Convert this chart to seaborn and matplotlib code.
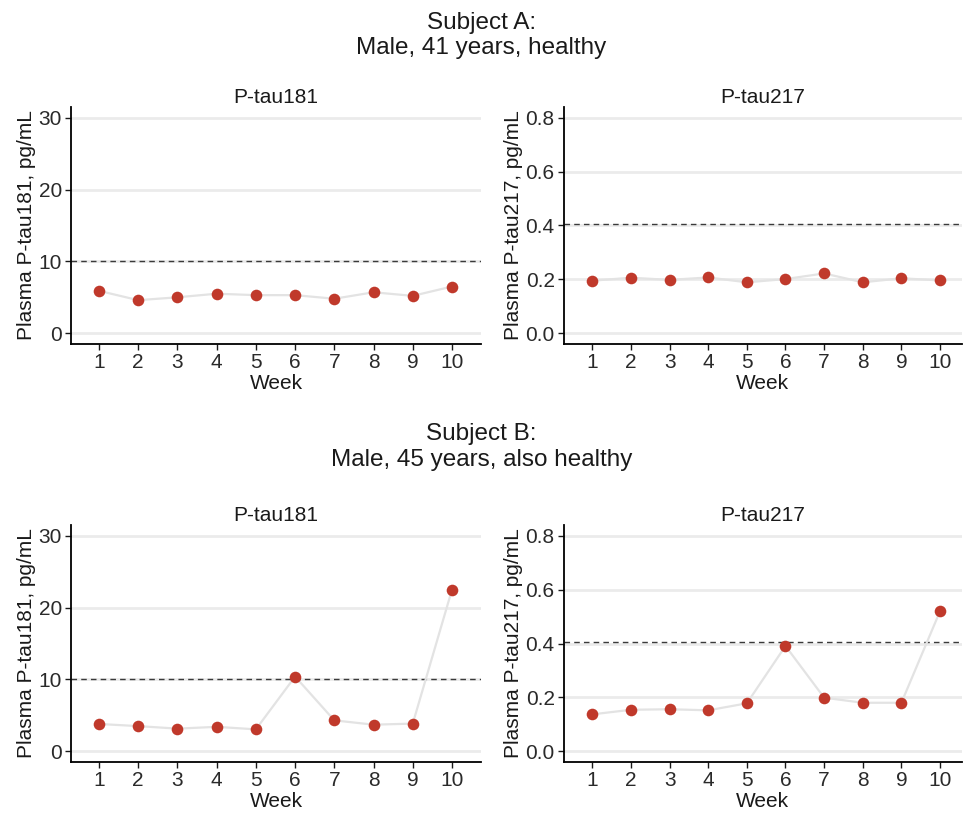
import pandas as pd
import seaborn as sns
import matplotlib.pyplot as plt

weeks = list(range(1, 11))
a_ptau181 = [5.9, 4.6, 5.0, 5.5, 5.3, 5.3, 4.8, 5.7, 5.2, 6.5]
a_ptau217 = [0.195, 0.206, 0.198, 0.207, 0.189, 0.201, 0.222, 0.189, 0.204, 0.196]
b_ptau181 = [3.8, 3.5, 3.15, 3.4, 3.05, 10.4, 4.3, 3.7, 3.85, 22.5]
b_ptau217 = [0.137, 0.154, 0.156, 0.152, 0.178, 0.391, 0.199, 0.180, 0.180, 0.520]

subjects = ["Subject A:\nMale, 41 years, healthy", "Subject B:\nMale, 45 years, also healthy"]
markers = ["P-tau181", "P-tau217"]
cutoffs = [10, 0.405]
yticks = [[0, 10, 20, 30], [0.0, 0.2, 0.4, 0.6, 0.8]]
ytick_labels = [["0", "10", "20", "30"], ["0.0", "0.2", "0.4", "0.6", "0.8"]]
ylims = [(-1.5, 31.5), (-0.04, 0.84)]
xlims = [(0.286, 10.74), (0.26, 10.57)]

values = {(0, 0): a_ptau181, (0, 1): a_ptau217, (1, 0): b_ptau181, (1, 1): b_ptau217}

sns.set_theme(style="ticks")
plt.rcParams['font.family'] = ['Liberation Sans', 'DejaVu Sans']
plt.rcParams['font.size'] = 15

fig = plt.figure(figsize=(9.63, 8.13), dpi=100)

lefts = [0.0737, 0.5854]
widths = [0.4258, 0.4136]
bottoms = [0.5769, 0.0627]
height = 0.2915
title_y = [0.9565, 0.450]

for r in range(2):
    fig.text(0.5, title_y[r], subjects[r], ha="center", va="center",
             fontsize=17.5, linespacing=1.2, color="#1a1a1a")
    for c in range(2):
        ax = fig.add_axes([lefts[c], bottoms[r], widths[c], height])
        df = pd.DataFrame({"Week": weeks, "value": values[(r, c)]})
        ax.set_axisbelow(True)
        ax.yaxis.grid(True, color="#EBEBEB", linewidth=2)
        ax.axhline(cutoffs[c], color="#3a3a3a", lw=1, ls=(0, (4, 3)), zorder=1)
        sns.lineplot(data=df, x="Week", y="value", color="#E3E3E3", lw=1.6, ax=ax, zorder=2)
        sns.scatterplot(data=df, x="Week", y="value", color="#C0392B", s=70,
                        linewidth=0, ax=ax, zorder=3)
        ax.set_xlim(*xlims[c])
        ax.set_ylim(*ylims[c])
        ax.set_xticks(weeks)
        ax.set_xticklabels([str(w) for w in weeks])
        ax.set_yticks(yticks[c])
        ax.set_yticklabels(ytick_labels[c])
        ax.set_title(markers[c], fontsize=15, pad=3, color="#1a1a1a")
        ax.set_xlabel("Week", fontsize=15, labelpad=1.5, color="#1a1a1a")
        ax.set_ylabel(f"Plasma {markers[c]}, pg/mL", fontsize=15, labelpad=2, color="#1a1a1a")
        ax.tick_params(axis="both", length=4.5, width=1, pad=2, labelsize=15,
                       colors="#1a1a1a", direction="out")
        ax.tick_params(axis="both", labelcolor="#2a2a2a")
        for side in ["top", "right"]:
            ax.spines[side].set_visible(False)
        for side in ["left", "bottom"]:
            ax.spines[side].set_linewidth(1.3)
            ax.spines[side].set_color("black")

fig.savefig("out.png", dpi=100)
